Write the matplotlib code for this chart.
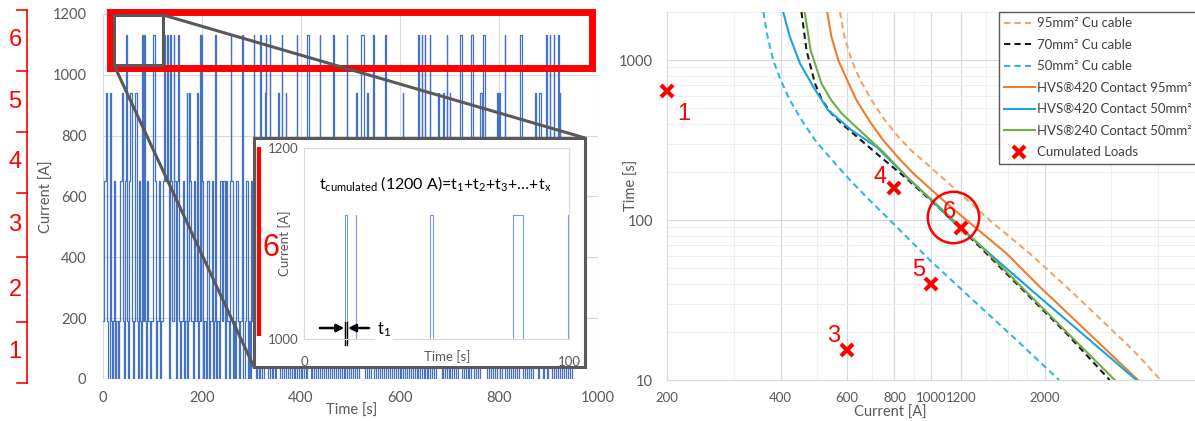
import matplotlib

matplotlib.use("Agg")
import matplotlib.pyplot as plt
from matplotlib.patches import ConnectionPatch, Rectangle
from matplotlib.ticker import FixedLocator, NullFormatter

W, H = 1195, 421

# ---- left: load cycle (time [s] -> current [A]), change points of the step trace
trace_t = [
    0, 3, 7, 9, 11, 14, 16, 18, 20, 23, 25, 27, 30, 32, 35, 38, 41, 43, 45, 47,
    49, 51, 53, 55, 58, 60, 62, 65, 68, 70, 72, 75, 77, 79, 81, 82, 84, 86, 88, 91,
    94, 96, 100, 105, 108, 110, 113, 116, 118, 121, 124, 126, 129, 131, 134, 136, 138, 140, 143, 144,
    147, 149, 151, 153, 156, 158, 161, 164, 166, 169, 170, 172, 174, 175, 178, 181, 183, 186, 190, 191,
    193, 195, 197, 198, 200, 203, 205, 209, 211, 214, 217, 220, 223, 225, 227, 228, 231, 235, 237, 240,
    243, 246, 248, 251, 254, 256, 258, 259, 262, 264, 267, 269, 272, 275, 277, 280, 283, 286, 289, 292,
    294, 297, 299, 302, 305, 306, 309, 312, 315, 318, 319, 322, 325, 327, 329, 330, 333, 337, 338, 341,
    344, 347, 350, 354, 355, 358, 361, 362, 365, 369, 370, 373, 377, 381, 385, 388, 391, 392, 395, 399,
    403, 407, 410, 413, 417, 420, 423, 427, 431, 434, 438, 439, 442, 446, 450, 454, 458, 462, 465, 466,
    470, 474, 478, 482, 486, 489, 492, 493, 497, 501, 505, 509, 512, 514, 518, 522, 527, 530, 533, 535,
    538, 541, 545, 548, 552, 556, 560, 564, 567, 570, 571, 575, 579, 583, 587, 591, 595, 599, 603, 606,
    607, 611, 615, 619, 623, 627, 631, 634, 637, 638, 641, 644, 645, 648, 650, 651, 654, 657, 660, 661,
    665, 669, 673, 677, 679, 682, 685, 687, 689, 691, 694, 695, 698, 701, 702, 705, 709, 713, 717, 721,
    726, 729, 733, 737, 740, 743, 747, 750, 754, 758, 762, 765, 767, 768, 772, 776, 780, 784, 788, 792,
    795, 798, 800, 802, 806, 809, 812, 813, 817, 821, 825, 829, 833, 837, 840, 842, 846, 849, 853, 857,
    861, 865, 869, 873, 875, 878, 881, 885, 888, 891, 895, 896, 899, 903, 904, 907, 911, 912, 915, 920,
    921, 923, 924, 927, 931, 935, 939, 943, 947, 949,
]
trace_a = [
    190, 650, 940, 190, 0, 940, 190, 0, 190, 650, 0, 190, 0, 190, 650, 940, 190, 0, 650, 1130,
    190, 0, 650, 940, 190, 0, 190, 940, 190, 0, 650, 190, 0, 1130, 190, 1130, 190, 0, 650, 190,
    0, 190, 1130, 650, 0, 190, 650, 0, 190, 650, 1130, 650, 1130, 650, 0, 1130, 650, 190, 1130, 650,
    0, 650, 1130, 190, 0, 190, 650, 0, 190, 940, 0, 190, 940, 650, 190, 0, 650, 190, 940, 0,
    190, 1130, 190, 1130, 650, 0, 190, 0, 650, 0, 190, 650, 0, 190, 1130, 0, 190, 0, 650, 190,
    650, 0, 650, 190, 0, 650, 1130, 650, 0, 190, 0, 650, 190, 0, 190, 1130, 0, 190, 650, 0,
    190, 0, 650, 190, 1130, 190, 0, 650, 0, 1130, 190, 0, 650, 940, 1130, 190, 0, 1130, 650, 0,
    190, 0, 650, 940, 190, 0, 1130, 650, 0, 940, 190, 0, 650, 0, 190, 0, 1130, 190, 0, 650,
    0, 190, 0, 1130, 650, 0, 190, 0, 650, 0, 1130, 190, 0, 650, 0, 190, 0, 650, 1130, 0,
    190, 0, 650, 0, 190, 0, 1130, 190, 0, 650, 0, 190, 940, 0, 650, 1130, 190, 0, 940, 190,
    0, 650, 1130, 0, 190, 0, 650, 0, 190, 1130, 0, 650, 0, 190, 0, 650, 0, 190, 0, 940,
    650, 0, 190, 0, 650, 0, 190, 0, 1130, 190, 0, 1130, 650, 0, 1130, 190, 0, 650, 1130, 0,
    190, 0, 650, 940, 650, 190, 0, 940, 190, 0, 1130, 190, 0, 940, 650, 0, 190, 0, 650, 1130,
    0, 190, 0, 650, 0, 1130, 190, 0, 650, 0, 940, 650, 940, 1130, 190, 0, 650, 0, 190, 0,
    940, 650, 940, 0, 190, 650, 1130, 0, 190, 0, 650, 0, 190, 0, 650, 1130, 190, 0, 650, 0,
    190, 0, 650, 940, 190, 0, 940, 650, 0, 190, 1130, 0, 650, 1130, 190, 0, 1130, 650, 0, 1130,
    190, 940, 0, 650, 0, 190, 0, 650, 0, 0,
]

# zoomed window (0-100 s) of the 1200 A class
inset_t = [0, 15.5, 16.3, 19.6, 19.8, 47.7, 48.5, 78.8, 82.6, 99.8, 100]
inset_a = [0, 1130, 0, 1130, 0, 1130, 0, 1130, 0, 1130, 1130]

class_names = ["1", "2", "3", "4", "5", "6"]

# ---- right: time-current curves (current [A], time [s])
cu95_i = [574, 590, 616, 650, 696, 750, 819, 890, 972, 1192, 1445, 1825, 2282, 2796, 3425, 4055]
cu95_t = [2000, 1400, 1000, 750, 562, 430, 332, 270, 226, 147, 97.7, 61.9, 38.3, 24.3, 15.4, 10]
cu70_i = [454, 468, 493, 515, 545, 580, 622, 717, 861, 1055, 1346, 1753, 2282, 2972]
cu70_t = [2000, 1155, 714, 560, 464, 400, 348, 261, 182, 118, 68.1, 36.5, 19.6, 10]
cu50_i = [360, 368, 382, 400, 423, 455, 493, 545, 610, 690, 778, 993, 1292, 1683, 2183]
cu50_t = [2000, 1450, 1000, 750, 562, 420, 316, 240, 178, 132, 100, 56.2, 31.6, 17.8, 10]
hvs420_95_i = [531, 545, 568, 600, 635, 690, 747, 820, 897, 1077, 1241, 1584, 1940, 2377, 2913, 3531]
hvs420_95_t = [2000, 1400, 1000, 750, 562, 410, 316, 245, 196, 133, 100, 61.9, 38.3, 24.3, 15.4, 10]
hvs420_50_i = [406, 423, 450, 488, 534, 616, 717, 844, 1003, 1133, 1460, 1940, 2630, 3495]
hvs420_50_t = [2000, 1399, 953, 681, 487, 365, 287, 196, 133, 100, 59, 32.9, 17.8, 10]
hvs240_50_i = [463, 480, 513, 545, 580, 620, 661, 747, 879, 1077, 1374, 1788, 2329, 3064]
hvs240_50_t = [2000, 1155, 714, 560, 464, 400, 348, 267, 178, 115, 66.5, 35.6, 19.1, 10]

load_i = [200, 600, 800, 1000, 1200]
load_t = [644, 15.4, 159, 39.8, 88.7]
load_names = ["1", "3", "4", "5", "6"]

RED = "#ff0000"
BLUE = "#4472c4"
GRAY = "#595959"
DARK = "#595959"
GRID = "#d9d9d9"

plt.rcParams["font.family"] = ["Lato", "DejaVu Sans"]
plt.rcParams["mathtext.fontset"] = "custom"
plt.rcParams["mathtext.rm"] = "Lato"
plt.rcParams["mathtext.it"] = "Lato"


def frac(x0, y0, x1, y1):
    return [x0 / W, 1 - y1 / H, (x1 - x0) / W, (y1 - y0) / H]


fig = plt.figure(figsize=(W / 100, H / 100), dpi=100)

# ---------------- left main chart
ax = fig.add_axes(frac(103, 14, 598, 379))
ax.step(trace_t, trace_a, where="post", color=BLUE, lw=0.9)
ax.set_xlim(0, 1000)
ax.set_ylim(0, 1200)
ax.set_xticks(range(0, 1001, 200))
ax.set_yticks(range(0, 1201, 200))
ax.grid(color=GRID, lw=0.8)
ax.set_axisbelow(True)
for s in ax.spines.values():
    s.set_visible(False)
ax.tick_params(length=0, labelcolor=GRAY, labelsize=10.5)
ax.tick_params(axis="y", pad=12)
ax.tick_params(axis="x", pad=9)
ax.add_patch(Rectangle((14, 1023), 974, 184, fill=False, ec=RED, lw=5, clip_on=False, zorder=5))
ax.add_patch(Rectangle((22, 1033), 99, 164, fill=False, ec=DARK, lw=2.2, clip_on=False, zorder=6))

# ---------------- decoration layer in pixel coordinates
deco = fig.add_axes([0, 0, 1, 1], zorder=3)
deco.set_xlim(0, W)
deco.set_ylim(H, 0)
deco.axis("off")

deco.plot([27, 27], [10, 383], color=RED, lw=1.2)
bracket_y = [10, 71, 132, 193, 257, 322, 383]
for y in bracket_y:
    deco.plot([17, 27], [y, y], color=RED, lw=1.2)
for k, name in enumerate(class_names):
    yc = (bracket_y[-1 - k] + bracket_y[-2 - k]) / 2
    deco.text(15, yc, name, color=RED, fontsize=17, ha="center", va="center",
              family="Liberation Sans")

deco.text(47, 197, "Current [A]", rotation=90, color=GRAY, fontsize=10.5, ha="center", va="center")
deco.text(352, 411, "Time [s]", color=GRAY, fontsize=10.5, ha="center", va="center")

deco.add_patch(Rectangle((254, 138), 331, 229, fc="white", ec=DARK, lw=2.2, zorder=2))
for xa, xb in [((121, 1197), (585, 138)), ((22, 1033), (254, 367))]:
    con = ConnectionPatch(xyA=xa, coordsA=ax.transData, xyB=xb, coordsB=deco.transData,
                          color=DARK, lw=2.2, zorder=1)
    deco.add_artist(con)
deco.plot([259, 259], [147, 336], color=RED, lw=3, solid_capstyle="butt", zorder=3)
deco.text(271, 248, "6", color=RED, fontsize=22, ha="center", va="center",
          family="Liberation Sans", zorder=3)
deco.text(285, 243, "Current [A]", rotation=90, color=GRAY, fontsize=9.5, ha="center",
          va="center", zorder=3)
deco.text(447, 357, "Time [s]", color=GRAY, fontsize=9.5, ha="center", va="center", zorder=3)

# ---------------- inset
inax = fig.add_axes(frac(304, 148, 569, 339), zorder=4)
inax.step(inset_t, inset_a, where="post", color=BLUE, lw=0.8, alpha=0.7)
inax.set_xlim(0, 100)
inax.set_ylim(1000, 1200)
inax.set_xticks([0, 100])
inax.set_yticks([1000, 1200])
for s in inax.spines.values():
    s.set_color(GRID)
inax.tick_params(length=0, labelcolor=GRAY, labelsize=9.5)
inax.tick_params(axis="y", pad=4)
inax.tick_params(axis="x", pad=12)
inax.text(49.5, 1163,
          r"t$_\mathregular{cumulated}$ (1200 A)=t$_\mathregular{1}$+t$_\mathregular{2}$"
          r"+t$_\mathregular{3}$+…+t$_\mathregular{x}$",
          fontsize=11.5, ha="center", va="center", color="black")
arrow = dict(arrowstyle="-|>", color="black", lw=1.8, mutation_scale=11, shrinkA=0, shrinkB=0)
inax.annotate("", xy=(15.2, 1011.5), xytext=(6.0, 1011.5), arrowprops=arrow, annotation_clip=False)
inax.annotate("", xy=(16.6, 1011.5), xytext=(24.5, 1011.5), arrowprops=arrow, annotation_clip=False)
for xb in [15.5, 16.3]:
    inax.plot([xb, xb], [994, 1018], color="black", lw=1.0, clip_on=False)
inax.text(27.5, 1010, r"t$_\mathregular{1}$", fontsize=12, ha="left", va="center",
          bbox=dict(fc="white", ec="none", pad=1.5), clip_on=False)

# ---------------- right: time-current curves
rax = fig.add_axes(frac(667, 12, 1195, 380))
rax.set_xscale("log")
rax.set_yscale("log")
dash = (0, (3, 2))
rax.plot(cu95_i, cu95_t, color="#f2a46c", lw=1.5, ls=dash, label="95mm² Cu cable")
rax.plot(cu70_i, cu70_t, color="#1a1a1a", lw=1.5, ls=dash, label="70mm² Cu cable")
rax.plot(cu50_i, cu50_t, color="#33b5e5", lw=1.5, ls=dash, label="50mm² Cu cable")
rax.plot(hvs420_95_i, hvs420_95_t, color="#ed7d31", lw=1.5, label="HVS®420 Contact 95mm²")
rax.plot(hvs420_50_i, hvs420_50_t, color="#1ba3de", lw=1.5, label="HVS®420 Contact 50mm²")
rax.plot(hvs240_50_i, hvs240_50_t, color="#70ad47", lw=1.5, label="HVS®240 Contact 50mm²")
rax.plot(load_i, load_t, ls="none", marker="x", ms=8, mew=3, color=RED, clip_on=False,
         label="Cumulated Loads", zorder=5)
offsets = [(12, -17), (-10, 10), (-10, 8), (-9, 10), (-8, 12)]
for i, t, name, off in zip(load_i, load_t, load_names, offsets):
    rax.annotate(name, (i, t), xytext=off, textcoords="offset points", color=RED, fontsize=17,
                 ha="center", va="center", family="Liberation Sans", annotation_clip=False)
rax.plot([1142], [104], ls="none", marker="o", ms=37, mfc="none", mec=RED, mew=1.8)

rax.set_xlim(200, 5000)
rax.set_ylim(10, 2000)
xt = [200, 400, 600, 800, 1000, 1200, 2000]
rax.xaxis.set_major_locator(FixedLocator(xt))
rax.set_xticklabels([str(v) for v in xt])
rax.xaxis.set_minor_locator(FixedLocator([300, 500, 700, 900, 1400, 1600, 1800, 3000, 4000]))
rax.xaxis.set_minor_formatter(NullFormatter())
rax.yaxis.set_major_locator(FixedLocator([10, 100, 1000]))
rax.set_yticklabels(["10", "100", "1000"])
rax.yaxis.set_minor_locator(FixedLocator([v * m for m in (10, 100, 1000) for v in range(2, 10)]))
rax.yaxis.set_minor_formatter(NullFormatter())
rax.grid(which="major", color=GRID, lw=0.8)
rax.grid(which="minor", color="#efefef", lw=0.7)
rax.set_axisbelow(True)
for side in ["top", "right"]:
    rax.spines[side].set_visible(False)
for side in ["left", "bottom"]:
    rax.spines[side].set_color(GRID)
rax.tick_params(which="both", length=0, labelcolor=GRAY, labelsize=10.5)
rax.tick_params(axis="x", labelsize=9.5)
rax.tick_params(axis="y", pad=10)
rax.tick_params(axis="x", pad=9)
deco.text(890, 413, "Current [A]", color=GRAY, fontsize=10.5, ha="center", va="center")
deco.text(632, 185, "Time [s]", rotation=90, color=GRAY, fontsize=10.5, ha="center", va="center")

leg = rax.legend(loc="upper left", bbox_to_anchor=(999 / W, 1 - 12 / H),
                 bbox_transform=fig.transFigure, fancybox=False, framealpha=1,
                 edgecolor=DARK, fontsize=9.5, handlelength=2.3, handletextpad=0.15,
                 labelspacing=0.72, borderpad=0.4, borderaxespad=0, labelcolor="#404040")
leg.get_frame().set_linewidth(1.0)

fig.savefig("out.png", dpi=100)
